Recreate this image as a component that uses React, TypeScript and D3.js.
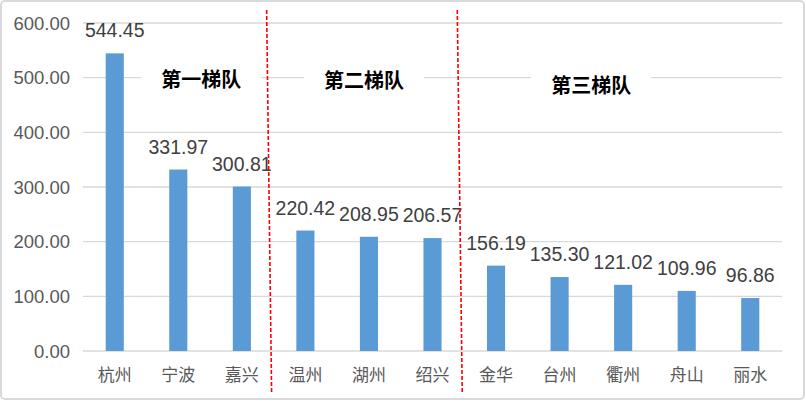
import { useEffect, useRef } from 'react'
import * as d3 from 'd3'

// 城市及数值
const cities = ['杭州', '宁波', '嘉兴', '温州', '湖州', '绍兴', '金华', '台州', '衢州', '舟山', '丽水']
const values = [544.45, 331.97, 300.81, 220.42, 208.95, 206.57, 156.19, 135.3, 121.02, 109.96, 96.86]
const yTicks = [0, 100, 200, 300, 400, 500, 600]
const groupNames = ['第一梯队', '第二梯队', '第三梯队']
// index of the first city in the second and third tier
const groupBreaks = [3, 6]

const W = 806
const H = 402
const FONT = '"Liberation Sans", Arial, "Noto Sans CJK SC", sans-serif'

export default function App() {
  const svgRef = useRef<SVGSVGElement>(null)

  useEffect(() => {
    if (!svgRef.current) return
    const svg = d3.select(svgRef.current)
    svg.selectAll('*').remove()

    const margin = { top: 23, right: 24, bottom: 51, left: 83 }
    const width = W - margin.left - margin.right
    const height = H - margin.top - margin.bottom

    // outer frame
    svg.append('rect')
      .attr('x', 1).attr('y', 1)
      .attr('width', W - 3).attr('height', H - 4)
      .attr('rx', 4)
      .attr('fill', '#fff')
      .attr('stroke', '#d9d9d9')
      .attr('stroke-width', 2)

    const g = svg.append('g').attr('transform', `translate(${margin.left},${margin.top})`)

    const x = d3.scaleBand<string>().domain(cities).range([0, width]).paddingInner(0.715).paddingOuter(0.357)
    const y = d3.scaleLinear().domain([0, 600]).range([height, 0])

    // grid
    g.selectAll('.grid')
      .data(yTicks)
      .enter()
      .append('line')
      .attr('x1', 0).attr('x2', width)
      .attr('y1', d => y(d)).attr('y2', d => y(d))
      .attr('stroke', '#d9d9d9')
      .attr('stroke-width', d => (d === 0 ? 1.6 : 1.3))

    // y labels
    g.selectAll('.ylab')
      .data(yTicks)
      .enter()
      .append('text')
      .attr('x', -13)
      .attr('y', d => y(d) + 6.5)
      .attr('text-anchor', 'end')
      .attr('font-family', FONT)
      .attr('font-size', 18.5)
      .attr('fill', '#595959')
      .text(d => d3.format('.2f')(d))

    // x labels
    g.selectAll('.xlab')
      .data(cities)
      .enter()
      .append('text')
      .attr('x', d => (x(d) ?? 0) + x.bandwidth() / 2)
      .attr('y', height + 30)
      .attr('text-anchor', 'middle')
      .attr('font-family', FONT)
      .attr('font-size', 17)
      .attr('fill', '#595959')
      .text(d => d)

    // bars
    g.selectAll('.bar')
      .data(cities)
      .enter()
      .append('rect')
      .attr('x', d => x(d) ?? 0)
      .attr('width', x.bandwidth())
      .attr('y', (d, i) => y(values[i]))
      .attr('height', (d, i) => height - y(values[i]))
      .attr('fill', '#5b9bd5')

    // value labels
    g.selectAll('.val')
      .data(cities)
      .enter()
      .append('text')
      .attr('x', d => (x(d) ?? 0) + x.bandwidth() / 2)
      .attr('y', (d, i) => y(values[i]) - 16)
      .attr('text-anchor', 'middle')
      .attr('font-family', FONT)
      .attr('font-size', 19.5)
      .attr('fill', '#404040')
      .text((d, i) => d3.format('.2f')(values[i]))

    // group labels with white boxes over the 500 gridline
    const step = x.step()
    const groupCenters = [
      (x(cities[0])! + x(cities[2])! + x.bandwidth()) / 2 + 23,
      (x(cities[3])! + x(cities[5])! + x.bandwidth()) / 2 - 5,
      (x(cities[6])! + x(cities[10])! + x.bandwidth()) / 2 - 32,
    ]
    const groupY = [y(500) + 9, y(500) + 10, y(500) + 15]
    groupNames.forEach((name, i) => {
      g.append('rect')
        .attr('x', groupCenters[i] - 60)
        .attr('y', groupY[i] - 20)
        .attr('width', 120)
        .attr('height', 28)
        .attr('fill', '#fff')
      g.append('text')
        .attr('x', groupCenters[i])
        .attr('y', groupY[i])
        .attr('text-anchor', 'middle')
        .attr('font-family', '"Noto Sans CJK SC", sans-serif')
        .attr('font-weight', 'bold')
        .attr('font-size', 20)
        .attr('fill', '#000')
        .text(name)
    })

    // red dashed dividers (hand drawn, slightly slanted)
    groupBreaks.forEach(b => {
      const bx = x(cities[b])! - (step - x.bandwidth()) / 2
      g.append('line')
        .attr('x1', bx - 7).attr('y1', -13)
        .attr('x2', bx - 2).attr('y2', height + 43)
        .attr('stroke', '#ff0000')
        .attr('stroke-width', 1.6)
        .attr('stroke-dasharray', '4 2')
    })
  }, [])

  return (
    <div style={{ position: 'absolute', left: 0, top: 0 }}>
      <svg ref={svgRef} width={W} height={H} style={{ display: 'block' }} />
    </div>
  )
}
